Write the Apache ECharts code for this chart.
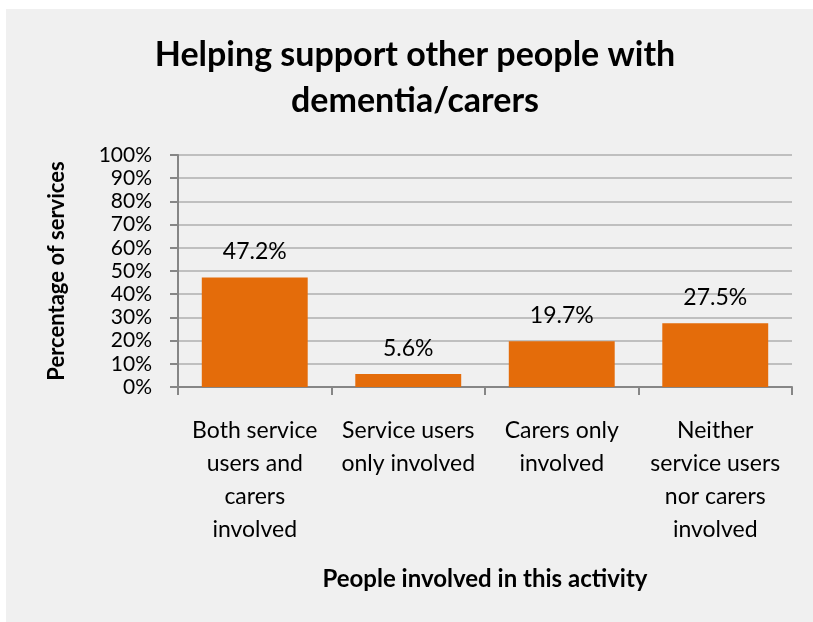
<!DOCTYPE html>
<html>
<head>
<meta charset="utf-8">
<script src="https://cdn.jsdelivr.net/npm/echarts@6/dist/echarts.min.js"></script>
<style>
  html, body { margin: 0; padding: 0; background: #ffffff; }
  #chart { width: 813px; height: 622px; }
</style>
</head>
<body>
<div id="chart"></div>
<script>
// Share of services by who is involved in the activity
const categories = [
  'Both service\nusers and\ncarers\ninvolved',
  'Service users\nonly involved',
  'Carers only\ninvolved',
  'Neither\nservice users\nnor carers\ninvolved'
];
const percentages = [47.2, 5.6, 19.7, 27.5];
const yTicks = { min: 0, max: 100, step: 10 };

const FONT = 'Lato, "Open Sans", sans-serif';
const chart = echarts.init(document.getElementById('chart'), null, { renderer: 'canvas' });

chart.setOption({
  backgroundColor: '#ffffff',
  animation: false,
  graphic: [{
    type: 'rect',
    left: 6, top: 9,
    shape: { width: 807, height: 613 },
    style: { fill: '#f0f0f0' },
    z: -10
  }],
  title: {
    text: 'Helping support other people with\ndementia/carers',
    left: 410,
    textAlign: 'center',
    top: 27,
    textStyle: {
      fontFamily: FONT,
      fontWeight: 'bold',
      fontSize: 34,
      lineHeight: 46,
      color: '#000000'
    }
  },
  grid: { left: 178, right: 21, top: 155, bottom: 235 },
  xAxis: {
    type: 'category',
    data: categories,
    name: 'People involved in this activity',
    nameLocation: 'middle',
    nameGap: 180,
    nameTextStyle: { fontFamily: FONT, fontWeight: 'bold', fontSize: 24, color: '#000000' },
    axisLine: { lineStyle: { color: '#868686', width: 2 } },
    axisTick: { show: true, length: 8, lineStyle: { color: '#868686', width: 2 } },
    axisLabel: {
      interval: 0,
      margin: 27,
      fontFamily: FONT,
      fontSize: 23,
      lineHeight: 33,
      color: '#000000'
    }
  },
  yAxis: {
    type: 'value',
    min: yTicks.min,
    max: yTicks.max,
    interval: yTicks.step,
    name: 'Percentage of services',
    nameLocation: 'middle',
    nameGap: 110,
    nameRotate: 90,
    nameTextStyle: { fontFamily: FONT, fontWeight: 'bold', fontSize: 22, color: '#000000' },
    axisLine: { show: true, lineStyle: { color: '#868686', width: 2 } },
    axisTick: { show: true, length: 8, lineStyle: { color: '#868686', width: 2 } },
    splitLine: { lineStyle: { color: '#bfbfbf', width: 2 } },
    axisLabel: {
      formatter: '{value}%',
      margin: 26,
      fontFamily: FONT,
      fontSize: 21,
      lineHeight: 21,
      color: '#000000'
    }
  },
  series: [{
    type: 'bar',
    data: percentages,
    barCategoryGap: '31%',
    itemStyle: { color: '#e46c0a' },
    label: {
      show: true,
      position: 'top',
      distance: 14,
      formatter: p => p.value.toFixed(1) + '%',
      fontFamily: FONT,
      fontSize: 23,
      color: '#000000'
    }
  }]
});
</script>
</body>
</html>
